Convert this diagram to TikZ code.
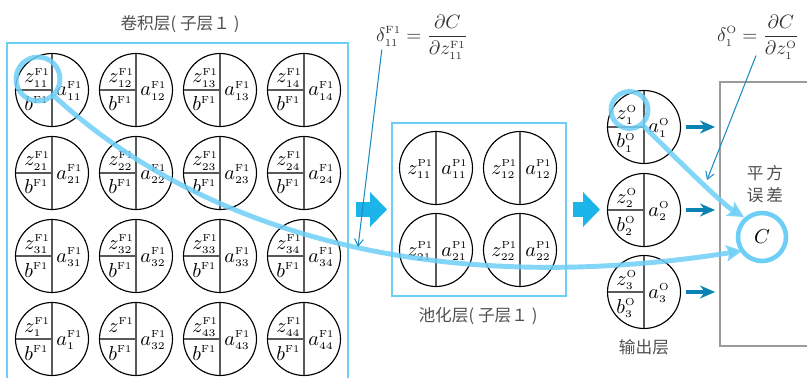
\RequirePackage{fix-cm}
\documentclass[tikz,border=0pt]{standalone}
\usepackage{fontspec}
\newfontfamily\cjk{Noto Sans CJK SC}
\usetikzlibrary{arrows.meta}
\DeclareMathSizes{11.5}{11.5}{5.8}{5}
\DeclareMathSizes{11}{11}{6}{5}
\definecolor{skyline}{HTML}{6DCFF6}
\definecolor{skyarrow}{HTML}{1CB5EA}
\definecolor{deeparrow}{HTML}{0A83B4}
\definecolor{leadblue}{HTML}{1B8DC2}
\definecolor{boxgray}{HTML}{9B9B9B}
\definecolor{textgray}{HTML}{505050}
\newcommand{\Fone}{\mathrm{F1}}
\newcommand{\Pone}{\mathrm{P1}}
\newcommand{\Ou}{\mathrm{O}}
% neuron with z, b and a: name, x, y, scripts of z, b, a
\newcommand{\neuron}[6]{%
  \node[cell] (#1) at (#2,#3) {};
  \draw[divider] (#1.north) -- (#1.south);
  \draw[divider] (#1.west) -- (#1.center);
  \node[lbl] (#1z) at ([shift={(-28,-7)}]#1.center) {$z#4$};
  \node[lbl] (#1b) at ([shift={(-28,21)}]#1.center) {$b#5$};
  \node[lbl] (#1a) at ([shift={(4,6)}]#1.center) {$a#6$};
}
% pooling neuron: name, x, y, scripts of z, a
\newcommand{\poolneuron}[5]{%
  \node[cell] (#1) at (#2,#3) {};
  \draw[divider] (#1.north) -- (#1.south);
  \node[lbl] (#1z) at ([shift={(-29,6)}]#1.center) {$z#4$};
  \node[lbl] (#1a) at ([shift={(5,6)}]#1.center) {$a#5$};
}
\begin{document}
\begin{tikzpicture}[x=0.02cm,y=-0.02cm,
  cell/.style={circle,draw,line width=0.65pt,minimum size=1.46cm,inner sep=0,outer sep=0},
  divider/.style={draw=black!65,line width=0.75pt},
  lbl/.style={inner sep=0,anchor=base west,font=\fontsize{11.5}{13}\selectfont},
  layerbox/.style={draw=skyline,line width=1.2pt,inner sep=0,outer sep=0},
  caption/.style={inner sep=0,text=textgray,font=\cjk\fontsize{9.5}{12.5}\selectfont},
  formula/.style={inner sep=0,text=black!80,font=\fontsize{11}{13}\selectfont},
  blockarrow/.style={draw=skyarrow,line width=0.3cm,-{Triangle[width=0.68cm,length=0.34cm]}},
  outarrow/.style={draw=deeparrow,line width=0.08cm,-{Stealth[width=0.26cm,length=0.3cm]}},
  errcurve/.style={draw=skyline,line width=2.8pt,opacity=0.85,-{Stealth[width=0.32cm,length=0.32cm,inset=0.06cm]}},
  ring/.style={circle,draw=skyline,line width=2.8pt,inner sep=0,outer sep=0,opacity=0.85},
  leader/.style={draw=leadblue,line width=0.6pt,-{Straight Barb[length=4pt,width=5pt]}}]
\useasboundingbox (0,0) rectangle (807,378);
\clip (0,0) rectangle (807,378);

% layer boxes
\node[layerbox,minimum width=6.82cm,minimum height=7.14cm] (convbox) at (177.5,221.5) {};
\node[layerbox,minimum width=3.48cm,minimum height=3.46cm] (poolbox) at (479,209.5) {};
\node[draw=boxgray,line width=1.3pt,inner sep=0,outer sep=0,minimum width=2.2cm,minimum height=5.28cm] (sqbox) at (775,214) {};

% convolution layer
\neuron{c11}{52}{90}{^{\Fone}_{11}}{^{\Fone}}{^{\Fone}_{11}}
\neuron{c12}{136}{90}{^{\Fone}_{12}}{^{\Fone}}{^{\Fone}_{12}}
\neuron{c13}{220}{90}{^{\Fone}_{13}}{^{\Fone}}{^{\Fone}_{13}}
\neuron{c14}{304}{90}{^{\Fone}_{14}}{^{\Fone}}{^{\Fone}_{14}}
\neuron{c21}{52}{173}{^{\Fone}_{21}}{^{\Fone}}{^{\Fone}_{21}}
\neuron{c22}{136}{173}{^{\Fone}_{22}}{^{\Fone}}{^{\Fone}_{22}}
\neuron{c23}{220}{173}{^{\Fone}_{23}}{^{\Fone}}{^{\Fone}_{23}}
\neuron{c24}{304}{173}{^{\Fone}_{24}}{^{\Fone}}{^{\Fone}_{24}}
\neuron{c31}{52}{256}{^{\Fone}_{31}}{^{\Fone}}{^{\Fone}_{31}}
\neuron{c32}{136}{256}{^{\Fone}_{32}}{^{\Fone}}{^{\Fone}_{32}}
\neuron{c33}{220}{256}{^{\Fone}_{33}}{^{\Fone}}{^{\Fone}_{33}}
\neuron{c34}{304}{256}{^{\Fone}_{34}}{^{\Fone}}{^{\Fone}_{34}}
\neuron{c41}{52}{339}{^{\Fone}_{1}}{^{\Fone}}{^{\Fone}_{1}}
\neuron{c42}{136}{339}{^{\Fone}}{^{\Fone}}{^{\Fone}_{32}}
\neuron{c43}{220}{339}{^{\Fone}_{43}}{^{\Fone}}{^{\Fone}_{43}}
\neuron{c44}{304}{339}{^{\Fone}_{44}}{^{\Fone}}{^{\Fone}_{44}}

% pooling layer
\poolneuron{p11}{436}{168}{^{\Pone}_{11}}{^{\Pone}_{11}}
\poolneuron{p12}{520}{168}{^{\Pone}_{12}}{^{\Pone}_{12}}
\poolneuron{p21}{436}{250}{^{\Pone}_{21}}{^{\Pone}_{21}}
\poolneuron{p22}{520}{250}{^{\Pone}_{22}}{^{\Pone}_{22}}

% output layer
\neuron{o1}{644}{127}{^{\Ou}_{1}}{^{\Ou}_{1}}{^{\Ou}_{1}}
\neuron{o2}{644}{210}{^{\Ou}_{2}}{^{\Ou}_{2}}{^{\Ou}_{2}}
\neuron{o3}{644}{292}{^{\Ou}_{3}}{^{\Ou}_{3}}{^{\Ou}_{3}}

\node[circle,draw=skyline,line width=2.6pt,minimum size=0.96cm,inner sep=0,outer sep=0,font=\fontsize{11.5}{13}\selectfont] (C) at (762,237) {$C$};

\draw[blockarrow,shorten <=0.16cm,shorten >=0.1cm] (poolbox.west -| convbox.east) -- (poolbox.west);
\draw[blockarrow,shorten <=0.14cm,shorten >=0.15cm] (poolbox.east) -- (poolbox.east -| o2.west);
\draw[outarrow,shorten <=0.11cm,shorten >=0.1cm] (o1) -- (o1 -| sqbox.west);
\draw[outarrow,shorten <=0.11cm,shorten >=0.1cm] (o2) -- (o2 -| sqbox.west);
\draw[outarrow,shorten <=0.11cm,shorten >=0.1cm] (o3) -- (o3 -| sqbox.west);

% error paths
\node[ring,minimum size=0.88cm] (r1) at (38,79) {};
\node[ring,minimum size=0.74cm] (r2) at (629.5,110) {};
\draw[errcurve] (r1.-47) .. controls +(146,135) and +(-312,49) .. (C.215);
\draw[errcurve,shorten >=0.06cm] (r2.-49) .. controls +(30,30) and +(-25,-15) .. (C.130);

% formulas
\node[formula] (f1) at (422,37) {$\displaystyle\delta^{\Fone}_{11}=\frac{\partial C}{\partial z^{\Fone}_{11}}$};
\node[formula] (f2) at (758,37) {$\displaystyle\delta^{\Ou}_{1}=\frac{\partial C}{\partial z^{\Ou}_{1}}$};
\coordinate (d1) at (358,247);
\coordinate (d2) at (707,180);
\draw[leader] ([shift={(6,-10)}]f1.south west) -- (d1);
\draw[leader] ([shift={(-2,-4)}]f2.south) -- (d2);

% captions
\node[caption] (t1) at (180,24) {卷积层( 子层１ )};
\node[caption] (t2) at (478,316) {池化层( 子层１ )};
\node[caption] (t3) at (644,347) {输出层};
\node[caption,align=center] (t4) at (765,184) {平\,方\\误\,差};
\end{tikzpicture}
\end{document}
